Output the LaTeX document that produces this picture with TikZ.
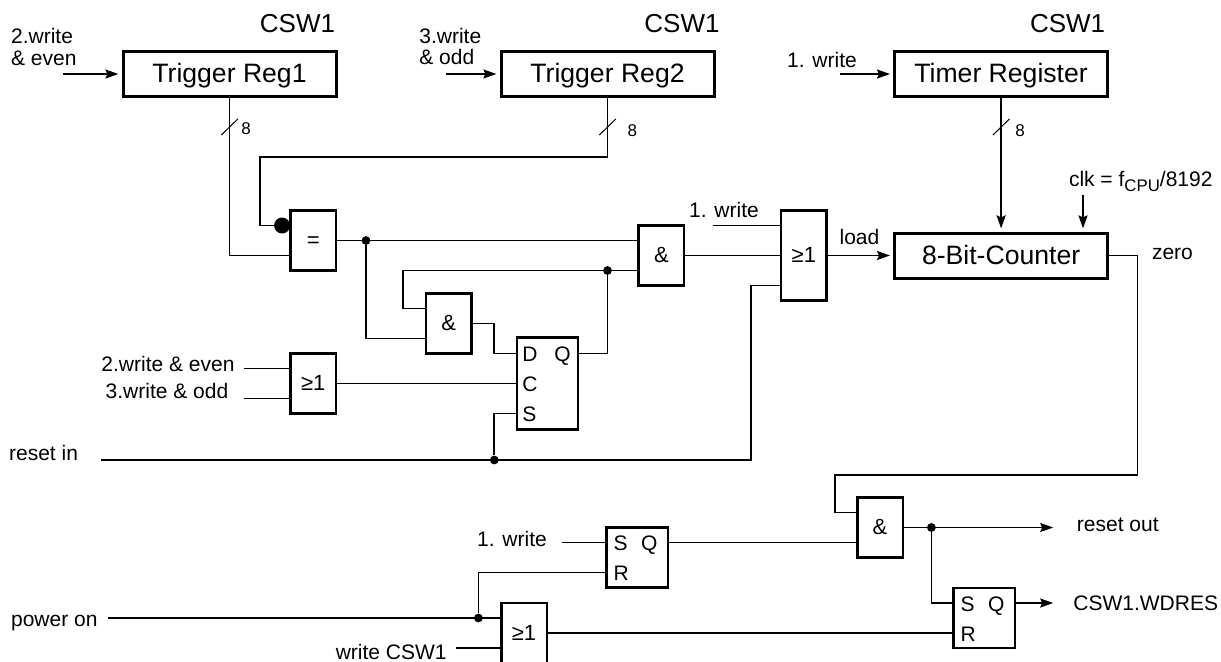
\documentclass[tikz,border=0pt]{standalone}
\usepackage{fontspec}
\setmainfont{Liberation Sans}
\usetikzlibrary{arrows.meta,positioning}

\begin{document}
\begin{tikzpicture}[
  x=0.5pt, y=-0.5pt,
  wire/.style={line width=0.85pt},
  arr/.style={wire, -{Stealth[length=6.5pt,width=4.5pt,inset=1pt]}, shorten >=2.3pt},
  tick/.style={line width=0.5pt},
  reg/.style={draw, line width=1.5pt, outer sep=0pt, minimum width=106.5pt, minimum height=22.5pt, inner sep=0pt, text height=8.8pt, text depth=0pt, font=\fontsize{13.3}{15}\selectfont},
  gate/.style={draw, line width=1.25pt, outer sep=0pt, minimum width=22.75pt, minimum height=30pt, inner sep=0pt, text height=7.3pt, text depth=0pt, font=\fontsize{11}{13}\selectfont},
  flop/.style={draw, line width=1.25pt, outer sep=0pt, minimum width=30.75pt, minimum height=30pt, inner sep=0pt},
  lbl/.style={inner sep=0pt, text height=7pt, text depth=0pt, font=\fontsize{10.5}{12}\selectfont},
  head/.style={inner sep=0pt, text height=8.6pt, text depth=0pt, font=\fontsize{13}{15}\selectfont},
  bus/.style={inner sep=0pt, text height=5.6pt, text depth=0pt, font=\fontsize{8.5}{10}\selectfont},
  pintxt/.style={inner sep=2.5pt, text height=8pt, text depth=0pt, font=\fontsize{10.5}{12}\selectfont},
  dot/.style={circle, fill, inner sep=0pt, minimum size=4.4pt},
  bubble/.style={circle, fill, inner sep=0pt, minimum size=8pt}
]
  \useasboundingbox (0,0) rectangle (1221,661);

  % registers and counter
  \node[reg] (reg1) at (229.5,74) {Trigger Reg1};
  \node[reg, right=82.5pt of reg1] (reg2) {Trigger Reg2};
  \node[reg, right=90.3pt of reg2] (timer) {Timer Register};
  \node[reg, below=68.25pt of timer] (counter) {8-Bit-Counter};

  % gates
  \node[gate, minimum height=45pt, left=34pt of counter] (orA) {≥1};
  \node[gate, left=48.5pt of orA] (andA) {\&};
  \node[gate, below left=57pt and 0pt of reg1.south east] (eq) {=};
  \node[gate, below right=11.5pt and 45pt of eq.south east] (andB) {\&};
  \node[gate, below=41.5pt of eq] (orB) {≥1};
  \node[flop, minimum width=30.5pt, minimum height=46pt, right=90.5pt of orB] (ffD) {};
  \node[flop] (sr1) at (637,557.5) {};
  \node[gate] (andC) at (880,527.5) {\&};
  \node[gate] (orC) at (524,633) {≥1};
  \node[flop] (sr2) at (984,618) {};

  % pin points
  \foreach \g in {eq,andA,andB,orB,andC,orC,sr1,sr2} {
    \coordinate (\g-a) at ([yshift=7.5pt]\g.west);
    \coordinate (\g-b) at ([yshift=-7.5pt]\g.west);
  }
  \foreach \g in {sr1,sr2} \coordinate (\g-q) at ([yshift=7.5pt]\g.east);
  \coordinate (orA-a) at ([yshift=15pt]orA.west);
  \coordinate (orA-b) at ([yshift=-15pt]orA.west);
  \coordinate (ffD-d) at ([yshift=15pt]ffD.west);
  \coordinate (ffD-s) at ([yshift=-15pt]ffD.west);
  \coordinate (ffD-q) at ([yshift=15pt]ffD.east);

  % flip-flop letters
  \node[pintxt, right=0pt of ffD-d] (txtD) {D};
  \node[pintxt, right=0pt of ffD.west] (txtC) {C};
  \node[pintxt, right=0pt of ffD-s] (txtS) {S};
  \node[pintxt, left=1pt of ffD-q] (txtQ) {Q};
  \node[pintxt, right=1pt of sr1-a] (txtSa) {S};
  \node[pintxt, right=1pt of sr1-b] (txtRa) {R};
  \node[pintxt, left=2.5pt of sr1-q] (txtQa) {Q};
  \node[pintxt, right=1pt of sr2-a] (txtSb) {S};
  \node[pintxt, right=1pt of sr2-b] (txtRb) {R};
  \node[pintxt, left=2.5pt of sr2-q] (txtQb) {Q};

  % labels
  \node[head] (csw1a) at (297.5,23.7) {CSW1};
  \node[head] (csw1b) at (682,23.7) {CSW1};
  \node[head] (csw1c) at (1067.6,23.7) {CSW1};
  \node[lbl, anchor=west] (txtEvenA) at (10.7,36) {2.write};
  \node[lbl, anchor=west] (txtEvenC) at (10.7,58) {\& even};
  \node[lbl, anchor=west] (txtOddA) at (419,36) {3.write};
  \node[lbl, anchor=west] (txtOddC) at (419,57.5) {\& odd};
  \node[lbl] (txtWriteA) at (822,60) {1. write};
  \node[lbl] (txtWriteB) at (724,210.7) {1. write};
  \node[lbl] (txtWriteC) at (512,539) {1. write};
  \node[lbl] (txtLoad) at (859.5,237) {load};
  \node[lbl, anchor=west] (txtClk) at (1068.6,179.7) {clk = f\raisebox{-2.2pt}{\fontsize{8.4}{9}\selectfont CPU}/8192};
  \node[lbl, anchor=west] (txtZero) at (1151.6,252.3) {zero};
  \node[lbl] (txtEvenB) at (168,364.7) {2.write \& even};
  \node[lbl] (txtOddB) at (167,391) {3.write \& odd};
  \node[lbl, anchor=west] (txtResetIn) at (8.7,453) {reset in};
  \node[lbl, anchor=west] (txtPower) at (10.7,619) {power on};
  \node[lbl, anchor=east] (txtCsw) at (447,652) {write CSW1};
  \node[lbl, anchor=west] (txtResetOut) at (1076.5,524) {reset out};
  \node[lbl, anchor=west] (txtWdres) at (1073,603.7) {CSW1.WDRES};
  \node[bus] (txtBusA) at (246,128.7) {8};
  \node[bus] (txtBusB) at (632.4,130.4) {8};
  \node[bus] (txtBusC) at (1020,130.4) {8};

  % free wire ends and bends
  \coordinate (inEven) at (63,74);
  \coordinate (inOdd) at (446,74);
  \coordinate (inWriteA) at (839.6,74);
  \coordinate (inClk) at (1083,195);
  \coordinate (inWriteB) at (712.7,225.5);
  \coordinate (inReset) at (101,460);
  \coordinate (inWriteC) at (561.5,542.5);
  \coordinate (inPower) at (107.6,618);
  \coordinate (inCsw) at (455.5,648);
  \coordinate (inEvenB) at (244.4,368.5);
  \coordinate (inOddB) at (244.4,398.5);
  \coordinate (outReset) at (1057.8,527.5);
  \coordinate (outWdres) at (1057.8,603);
  \coordinate (turnA) at (260,156.7);
  \coordinate (turnB) at (834.9,475);

  % junctions
  \node[bubble, left=0pt of eq-a] (inv) {};
  \node[dot] (dotA) at ([xshift=15pt]eq.east) {};
  \node[dot] (dotB) at (reg2.south |- andA-b) {};
  \node[dot] (dotC) at (494.3,460) {};
  \node[dot] (dotD) at (478.4,618) {};
  \node[dot] (dotE) at (931.4,527.5) {};

  % upper part
  \draw[arr] (inEven) -- (reg1);
  \draw[arr] (inOdd) -- (reg2);
  \draw[arr] (inWriteA) -- (timer);
  \draw[arr] (timer) -- (counter);
  \draw[arr] (inClk) -- (inClk |- counter.north);
  \draw[arr] (orA) -- (counter);
  \foreach \r in {reg1,reg2,timer}
    \draw[tick] (\r.south) ++(-8.2,38.5) -- ++(16.5,-16);
  \draw[wire] (reg1.south) |- (eq-b);
  \draw[wire] (reg2.south) |- (turnA) |- (inv);
  \draw[wire] (eq.east) -- (andA-a);
  \draw[wire] (dotA) |- (andB-b);
  \draw[wire] (andA.east) -- (orA.west);
  \draw[wire] (inWriteB) -- (orA-a);
  \draw[wire] (andB.east) -- ++(22.3,0) |- (ffD-d);
  \draw[wire] (andB-a) -- ++(-22.7,0) |- (dotB);
  \draw[wire] (ffD-q) -| (dotB);
  \draw[wire] (dotB) -- (andA-b);
  \draw[wire] (inEvenB) -- (orB-a);
  \draw[wire] (inOddB) -- (orB-b);
  \draw[wire] (orB.east) -- (ffD.west);
  \draw[wire] (ffD-s) -| (dotC);
  \draw[wire] (inReset) -- ++(649.7,0) |- (orA-b);

  % lower part
  \draw[wire] (counter.east) -- ++(30,0) |- (turnB) |- (andC-a);
  \draw[wire] (inWriteC) -- (sr1-a);
  \draw[wire] (sr1-q) -- (andC-b);
  \draw[wire] (sr1-b) -| (dotD);
  \draw[wire] (inPower) -- (orC-a);
  \draw[wire] (inCsw) -- (orC-b);
  \draw[wire] (orC.east) -- (sr2-b);
  \draw[arr] (andC.east) -- (outReset);
  \draw[wire] (dotE) |- (sr2-a);
  \draw[arr] (sr2-q) -- (outWdres);
\end{tikzpicture}
\end{document}
